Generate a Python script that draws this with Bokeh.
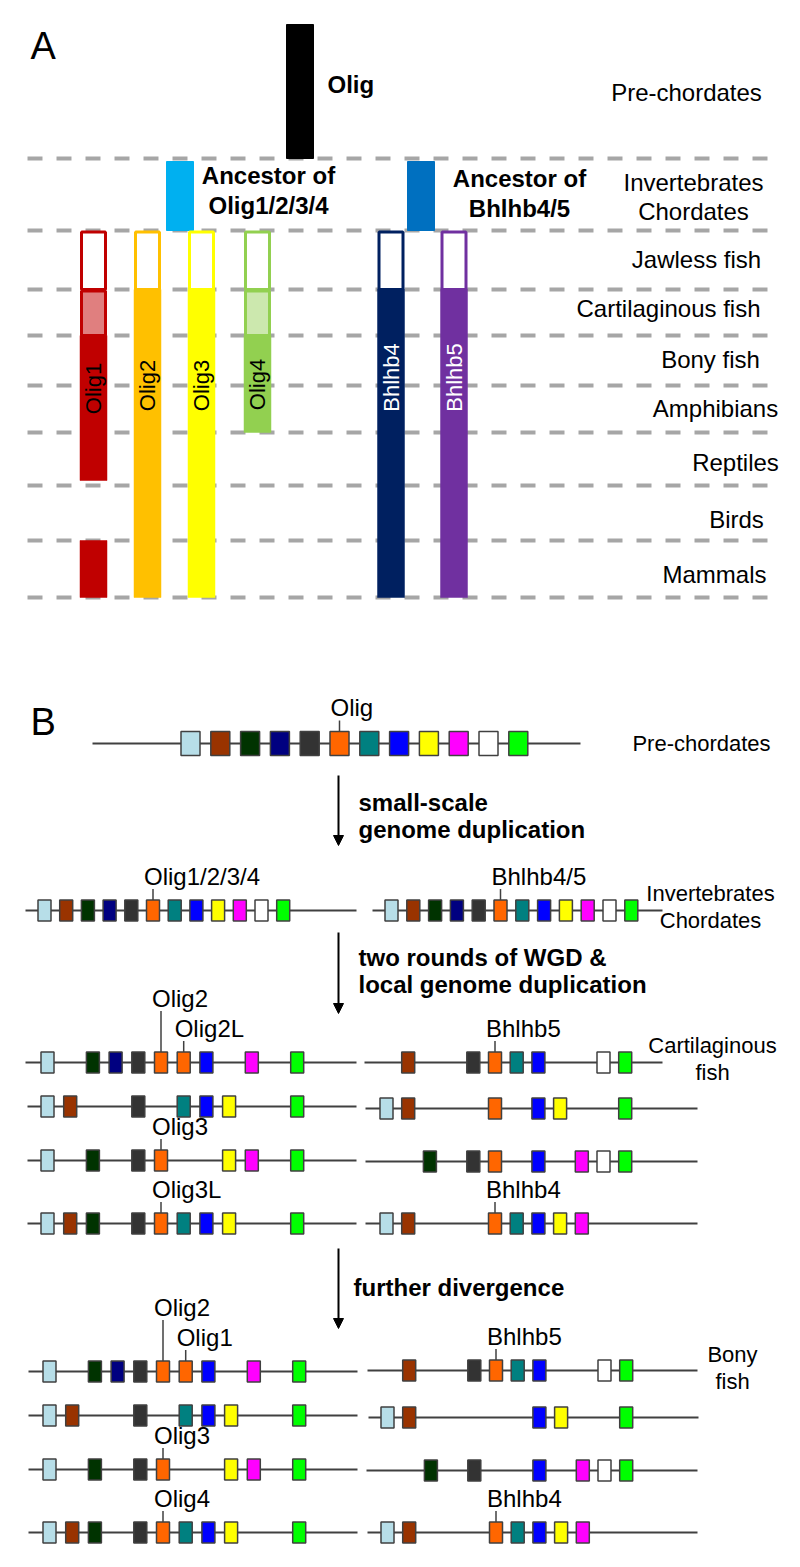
import math
from bokeh.plotting import figure
from bokeh.models import Range1d, Arrow, NormalHead
from bokeh.core.properties import value
from bokeh.embed import file_html
from bokeh.resources import INLINE

FONT = value("Liberation Sans")

# ======================= DATA =======================
# ---- Panel A: taxa and presence of Olig family genes ----
taxa = ["Pre-chordates", "Invertebrates\nChordates", "Jawless fish",
        "Cartilaginous fish", "Bony fish", "Amphibians", "Reptiles",
        "Birds", "Mammals"]

ancestor_names = ["Olig", "Ancestor of\nOlig1/2/3/4", "Ancestor of\nBhlhb4/5"]
ancestor_taxon = [0, 1, 1]
ancestor_colors = ["#000000", "#00B0F0", "#0070C0"]

family_genes = ["Olig1", "Olig2", "Olig3", "Olig4", "Bhlhb4", "Bhlhb5"]
# per taxon: "" absent, "o" unresolved (open box), "p" partial, "s" present
olig1_presence = ["", "", "o", "p", "s", "s", "s", "", "s"]
olig2_presence = ["", "", "o", "s", "s", "s", "s", "s", "s"]
olig3_presence = ["", "", "o", "s", "s", "s", "s", "s", "s"]
olig4_presence = ["", "", "o", "p", "s", "s", "", "", ""]
bhlhb4_presence = ["", "", "o", "s", "s", "s", "s", "s", "s"]
bhlhb5_presence = ["", "", "o", "s", "s", "s", "s", "s", "s"]
family_presence = [olig1_presence, olig2_presence, olig3_presence,
                   olig4_presence, bhlhb4_presence, bhlhb5_presence]
family_colors = ["#C00000", "#FFC000", "#FFFF00", "#92D050", "#002060", "#7030A0"]
family_pale = ["#E07F7F", "#FFE08A", "#FFFF99", "#CCE8AE", "#7F8FB0", "#B797CF"]
family_text_colors = ["black", "black", "black", "black", "white", "white"]

# ---- Panel B: syntenic loci (slot i holds neighbour gene index, -1 = lost) ----
locus_colors = ["#B7DEE8", "#993300", "#003300", "#000080", "#333333", "#FF6600",
                "#008080", "#0000FF", "#FFFF00", "#FF00FF", "#FFFFFF", "#00FF00"]
pre_chordate_locus = [0, 1, 2, 3, 4, 5, 6, 7, 8, 9, 10, 11]
inv_olig_locus = [0, 1, 2, 3, 4, 5, 6, 7, 8, 9, 10, 11]
inv_bhlhb_locus = [0, 1, 2, 3, 4, 5, 6, 7, 8, 9, 10, 11]
cart_olig2_locus = [0, -1, 2, 3, 4, 5, 5, 7, -1, 9, -1, 11]
cart_bhlhb5_locus = [-1, 1, -1, -1, 4, 5, 6, 7, -1, -1, 10, 11]
cart_left2_locus = [0, 1, -1, -1, 4, -1, 6, 7, 8, -1, -1, 11]
cart_right2_locus = [0, 1, -1, -1, -1, 5, -1, 7, 8, -1, -1, 11]
cart_olig3_locus = [0, -1, 2, -1, 4, 5, -1, -1, 8, 9, -1, 11]
cart_right3_locus = [-1, -1, 2, -1, 4, 5, -1, 7, -1, 9, 10, 11]
cart_olig3l_locus = [0, 1, 2, -1, 4, 5, 6, 7, 8, -1, -1, 11]
cart_bhlhb4_locus = [0, 1, -1, -1, -1, 5, 6, 7, 8, 9, -1, -1]
bony_olig2_locus = [0, -1, 2, 3, 4, 5, 5, 7, -1, 9, -1, 11]
bony_bhlhb5_locus = [-1, 1, -1, -1, 4, 5, 6, 7, -1, -1, 10, 11]
bony_left2_locus = [0, 1, -1, -1, 4, -1, 6, 7, 8, -1, -1, 11]
bony_right2_locus = [0, 1, -1, -1, -1, -1, -1, 7, 8, -1, -1, 11]
bony_olig3_locus = [0, -1, 2, -1, 4, 5, -1, -1, 8, 9, -1, 11]
bony_right3_locus = [-1, -1, 2, -1, 4, -1, -1, 7, -1, 9, 10, 11]
bony_olig4_locus = [0, 1, 2, -1, 4, 5, 6, 7, 8, -1, -1, 11]
bony_bhlhb4_locus = [0, 1, -1, -1, -1, 5, 6, 7, 8, 9, -1, -1]

# gene labels: (locus name, slot, text, raised)
locus_labels = [
    ("pre", 5, "Olig", False),
    ("invL", 5, "Olig1/2/3/4", False), ("invR", 5, "Bhlhb4/5", False),
    ("c1L", 5, "Olig2", True), ("c1L", 6, "Olig2L", False), ("c1R", 5, "Bhlhb5", False),
    ("c3L", 5, "Olig3", False),
    ("c4L", 5, "Olig3L", False), ("c4R", 5, "Bhlhb4", False),
    ("b1L", 5, "Olig2", True), ("b1L", 6, "Olig1", False), ("b1R", 5, "Bhlhb5", False),
    ("b3L", 5, "Olig3", False),
    ("b4L", 5, "Olig4", False), ("b4R", 5, "Bhlhb4", False),
]
event_texts = [["small-scale", "genome duplication"],
               ["two rounds of WGD &", "local genome duplication"],
               ["further divergence"]]
taxa_B = [taxa[0], taxa[1], taxa[3], taxa[4]]

# ======================= LAYOUT =======================
band_edges = [24, 158, 230, 289, 335, 385, 432, 485, 540, 597]
taxon_label_x = [686, 693, 696, 668, 710, 715, 735, 736, 714]
taxon_label_y = [92, 196, 259, 308, 359, 408, 462, 519, 574]
ancestor_cx = [299.5, 179.5, 420.5]
ancestor_label = [(327, 84, "left"), (268, 190, "center"), (519, 193, "center")]
family_cx = [93, 147, 201, 257, 390.5, 453.5]
family_label_y = [388, 385, 385, 384, 377, 377]
BAR_W = 27

# locus layout: y, first slot x, slot step, line x0, line x1, box w, box h
loci = {
    "pre": (pre_chordate_locus, 743, 190, 29.8, 92, 580, 19, 24),
    "invL": (inv_olig_locus, 910, 44, 21.7, 25, 356, 13, 21),
    "invR": (inv_bhlhb_locus, 910, 391, 21.8, 372, 662, 13, 21),
    "c1L": (cart_olig2_locus, 1062, 47, 22.7, 25, 356, 13, 21),
    "c1R": (cart_bhlhb5_locus, 1062, 386, 21.7, 364, 662, 13, 21),
    "c2L": (cart_left2_locus, 1106, 47, 22.7, 27, 356, 13, 21),
    "c2R": (cart_right2_locus, 1108, 386, 21.7, 365, 697, 13, 21),
    "c3L": (cart_olig3_locus, 1160, 47, 22.7, 27, 356, 13, 21),
    "c3R": (cart_right3_locus, 1161, 386, 21.7, 365, 697, 13, 21),
    "c4L": (cart_olig3l_locus, 1223, 47, 22.7, 27, 356, 13, 21),
    "c4R": (cart_bhlhb4_locus, 1223, 386, 21.7, 365, 697, 13, 21),
    "b1L": (bony_olig2_locus, 1371, 49, 22.7, 28, 357, 13, 21),
    "b1R": (bony_bhlhb5_locus, 1370, 387, 21.7, 367, 697, 13, 21),
    "b2L": (bony_left2_locus, 1415, 49, 22.7, 28, 357, 13, 21),
    "b2R": (bony_right2_locus, 1417, 387, 21.7, 368, 698, 13, 21),
    "b3L": (bony_olig3_locus, 1469, 49, 22.7, 28, 357, 13, 21),
    "b3R": (bony_right3_locus, 1470, 387, 21.7, 366, 697, 13, 21),
    "b4L": (bony_olig4_locus, 1532, 49, 22.7, 28, 357, 13, 21),
    "b4R": (bony_bhlhb4_locus, 1532, 387, 21.7, 367, 697, 13, 21),
}
taxaB_x = [701, 710, 712, 732]
taxaB_y = [743, 893, 1045, 1354]
event_arrow = [(775, 845), (932, 1013), (1248, 1328)]
event_text_x = [358, 358, 353]
event_text_y = [802, 957, 1287]
ARROW_X = 338

# ======================= FIGURE =======================
p = figure(width=784, height=1551, x_range=Range1d(0, 784), y_range=Range1d(1551, 0),
           output_backend="svg", toolbar_location=None, min_border=0,
           x_axis_location=None, y_axis_location=None)
p.xgrid.visible = False
p.ygrid.visible = False
p.outline_line_color = None
p.background_fill_color = "white"

# ---------- Panel A ----------
p.segment(x0=[27] * 9, y0=band_edges[1:], x1=[774] * 9, y1=band_edges[1:],
          line_color="#A6A6A6", line_width=4, line_dash="15 14")

p.quad(left=[c - BAR_W / 2 for c in ancestor_cx],
       right=[c + BAR_W / 2 for c in ancestor_cx],
       top=[band_edges[t] + (0 if t == 0 else 3) for t in ancestor_taxon],
       bottom=[band_edges[t + 1] for t in ancestor_taxon],
       fill_color=ancestor_colors, line_color=ancestor_colors, line_width=1)

for name, lab, col in zip(ancestor_names, ancestor_label, ancestor_colors):
    lines = name.split("\n")
    x, yc, al = lab
    n = len(lines)
    ys = [yc + (i - (n - 1) / 2) * 30 for i in range(n)]
    p.text(x=[x] * n, y=ys, text=lines, text_font=FONT, text_font_style="bold",
           text_font_size="24px", text_align=al, text_baseline="middle", text_color="black")

for gi, pres in enumerate(family_presence):
    cx = family_cx[gi]
    col = family_colors[gi]
    L, R = cx - BAR_W / 2, cx + BAR_W / 2
    for b, s in enumerate(pres):
        if s in ("o", "p"):
            fill = "white" if s == "o" else family_pale[gi]
            p.quad(left=[L + 1.5], right=[R - 1.5], top=[band_edges[b] + 1.5],
                   bottom=[band_edges[b + 1]], fill_color=fill, line_color=col, line_width=3)
    b = 0
    while b < len(pres):
        if pres[b] == "s":
            e = b
            while e + 1 < len(pres) and pres[e + 1] == "s":
                e += 1
            gap_follows = any(s == "s" for s in pres[e + 1:])
            top = band_edges[b]
            bottom = band_edges[e + 1] - (5 if gap_follows else 0)
            p.quad(left=[L], right=[R], top=[top], bottom=[bottom],
                   fill_color=col, line_color=col, line_width=0.5)
            b = e + 1
        else:
            b += 1
    p.text(x=[cx], y=[family_label_y[gi]], text=[family_genes[gi]], angle=math.pi / 2,
           text_font=FONT, text_font_size="22px", text_align="center",
           text_baseline="middle", text_color=family_text_colors[gi])

for t, x, y in zip(taxa, taxon_label_x, taxon_label_y):
    lines = t.split("\n")
    n = len(lines)
    ys = [y + (i - (n - 1) / 2) * 29 for i in range(n)]
    p.text(x=[x] * n, y=ys, text=lines, text_font=FONT, text_font_size="24px",
           text_align="center", text_baseline="middle", text_color="black")

p.text(x=[30], y=[45], text=["A"], text_font=FONT, text_font_size="38px",
       text_align="left", text_baseline="middle", text_color="black")

# ---------- Panel B ----------
p.text(x=[30], y=[721], text=["B"], text_font=FONT, text_font_size="38px",
       text_align="left", text_baseline="middle", text_color="black")

for key, (slots, y, x0, dx, lx0, lx1, w, h) in loci.items():
    p.segment(x0=[lx0], y0=[y], x1=[lx1], y1=[y], line_color="#404040", line_width=2)
    xs = [x0 + i * dx for i, g in enumerate(slots) if g >= 0]
    cols = [locus_colors[g] for g in slots if g >= 0]
    p.rect(x=xs, y=[y] * len(xs), width=w, height=h, fill_color=cols,
           line_color="#404040", line_width=1.5)

for key, slot, txt, raised in locus_labels:
    slots, y, x0, dx, lx0, lx1, w, h = loci[key]
    tx = x0 + slot * dx
    ly = y - (h / 2 + (54 if raised else 24))
    p.segment(x0=[tx], y0=[y - h / 2], x1=[tx], y1=[ly + 13], line_color="#404040", line_width=1.5)
    p.text(x=[tx - 9], y=[ly], text=[txt], text_font=FONT, text_font_size="24px",
           text_align="left", text_baseline="middle", text_color="black")

for i, t in enumerate(taxa_B):
    lines = [t] if i == 0 else t.replace(" ", "\n").split("\n")
    n = len(lines)
    xs = [taxaB_x[i]] * n
    ys = [taxaB_y[i] + k * 27 for k in range(n)]
    p.text(x=xs, y=ys, text=lines, text_font=FONT, text_font_size="22px",
           text_align="center", text_baseline="middle", text_color="black")

for (y0, y1), tx, ty, lines in zip(event_arrow, event_text_x, event_text_y, event_texts):
    p.add_layout(Arrow(end=NormalHead(size=10, fill_color="black", line_color="black", line_width=1),
                       x_start=ARROW_X, y_start=y0, x_end=ARROW_X, y_end=y1,
                       line_color="black", line_width=2))
    n = len(lines)
    p.text(x=[tx] * n, y=[ty + k * 27 for k in range(n)], text=lines, text_font=FONT,
           text_font_style="bold", text_font_size="24px", text_align="left",
           text_baseline="middle", text_color="black")

open("out.html", "w").write(file_html(p, INLINE))
